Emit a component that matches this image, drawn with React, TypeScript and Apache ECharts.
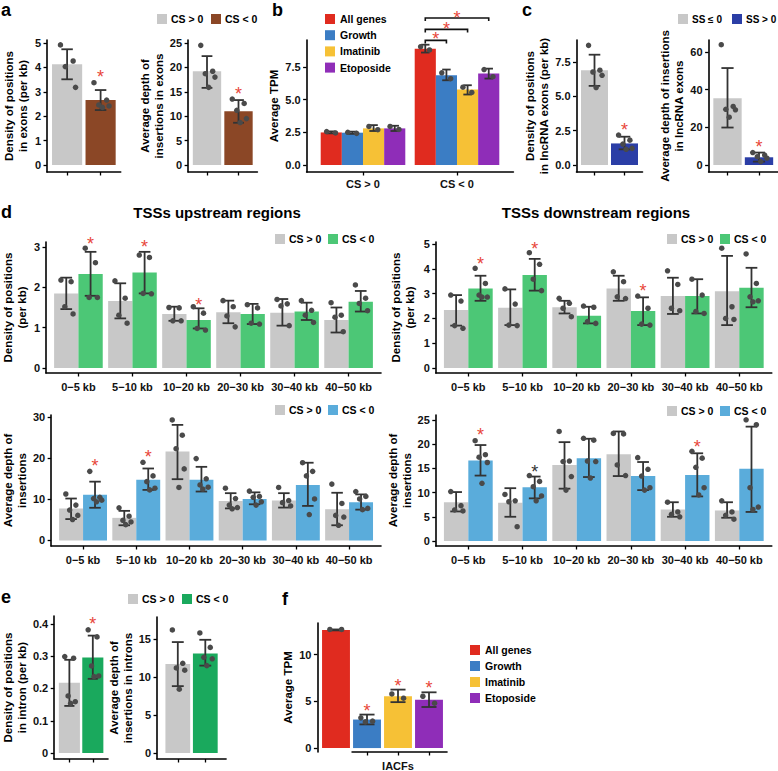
import React, { useEffect, useRef } from "react";
import * as echarts from "echarts";

const FONT = '"Liberation Sans", Arial, Helvetica, sans-serif';
const GRAY = "#c8c8c8";
const BROWN = "#8b4726";
const RED = "#e02b1f";
const BLUE = "#3b7dc4";
const YELLOW = "#f6c136";
const PURPLE = "#8f2db8";
const NAVY = "#2b3ea6";
const GREEN_D = "#4cc776";
const BLUE_D = "#5aacdb";
const GREEN_E = "#1aa95d";
const STAR_RED = "#e8463a";
const STAR_BLACK = "#333333";
const DOT = "#4a4a4a";
const ERR = "#333333";

// ---------------- data ----------------
const GROUPS_CS = ["CS > 0", "CS < 0"];
const GROUPS_SS = ["SS ≤ 0", "SS > 0"];
const TPM_SETS = ["All genes", "Growth", "Imatinib", "Etoposide"];
const D_CATS = ["0−5 kb", "5−10 kb", "10−20 kb", "20−30 kb", "30−40 kb", "40−50 kb"];

// a: exons
const A1_MEAN = [4.13, 2.66];
const A1_LO = [3.51, 2.25];
const A1_HI = [4.74, 3.07];
const A1_DOTS = [[4.92, 4.26, 4.03, 3.18], [3.37, 2.66, 2.46, 2.42, 2.36]];
const A1_STARS = [null, 3.76];
const A2_MEAN = [19.2, 11.0];
const A2_LO = [15.8, 8.65];
const A2_HI = [22.3, 13.3];
const A2_DOTS = [[24.5, 19.2, 18.7, 18.0, 15.9], [13.5, 12.6, 11.2, 9.5, 8.7]];
const A2_STARS = [null, 15.3];

// b: average TPM (rows: All genes, Growth, Imatinib, Etoposide; cols: CS>0, CS<0)
const B_MEAN = [[2.49, 8.9], [2.47, 6.87], [2.8, 5.77], [2.8, 6.99]];
const B_LO = [[2.42, 8.6], [2.38, 6.48], [2.6, 5.39], [2.6, 6.61]];
const B_HI = [[2.57, 9.2], [2.55, 7.3], [3.05, 6.1], [3.0, 7.37]];
const B_DOTS = [
  [[2.55, 2.45], [9.05, 8.8]],
  [[2.5, 2.42], [7.05, 6.6]],
  [[2.95, 2.7], [5.95, 5.55]],
  [[2.95, 2.72], [7.3, 6.75]],
];
const B_BRACKET_Y = [9.53, 10.37, 11.24];
const B_BRACKET_STAR = [9.92, 10.68, 11.52];

// c: lncRNA exons
const C1_MEAN = [6.9, 1.57];
const C1_LO = [5.76, 1.14];
const C1_HI = [8.03, 2.06];
const C1_DOTS = [[8.71, 6.9, 6.77, 6.53, 5.64], [2.18, 1.81, 1.52, 1.21, 1.14]];
const C1_STARS = [null, 2.83];
const C2_MEAN = [35.5, 4.1];
const C2_LO = [19.9, 1.8];
const C2_HI = [51.5, 6.6];
const C2_DOTS = [[63.9, 31.1, 29.6, 29.3, 25.4], [6.6, 5.3, 4.4, 3.6, 1.8]];
const C2_STARS = [null, 11.9];

// d1: upstream density (rows: CS>0, CS<0)
const D1_MEAN = [[1.85, 1.66, 1.34, 1.38, 1.37, 1.19], [2.33, 2.37, 1.19, 1.34, 1.4, 1.64]];
const D1_LO = [[1.46, 1.23, 1.17, 1.11, 1.05, 0.88], [1.79, 1.85, 0.98, 1.09, 1.19, 1.4]];
const D1_HI = [[2.24, 2.1, 1.52, 1.67, 1.71, 1.5], [2.88, 2.88, 1.48, 1.59, 1.62, 1.91]];
const D1_DOTS = [
  [[2.18, 2.14, 1.52, 1.34], [2.16, 1.73, 1.31, 1.11], [1.5, 1.49, 1.17, 1.17], [1.67, 1.52, 1.29, 1.02], [1.7, 1.59, 1.54, 1.05], [1.62, 1.31, 1.26, 0.9]],
  [[2.97, 2.61, 1.75, 1.75], [2.8, 2.74, 1.85, 1.84], [1.52, 1.36, 0.98, 0.94], [1.57, 1.49, 1.11, 1.09], [1.67, 1.43, 1.31, 1.13], [2.06, 1.73, 1.6, 1.42]],
];
const D1_STARS = [[null, null, null, null, null, null], [3.17, 3.09, 1.67, null, null, null]];

// d2: downstream density
const D2_MEAN = [[2.34, 2.43, 2.45, 3.21, 2.9, 3.1], [3.21, 3.75, 2.11, 2.3, 2.9, 3.24]];
const D2_LO = [[1.71, 1.73, 2.2, 2.71, 2.18, 1.73], [2.71, 3.12, 1.8, 1.73, 2.2, 2.45]];
const D2_HI = [[2.94, 3.17, 2.71, 3.72, 3.64, 4.52], [3.72, 4.4, 2.47, 2.85, 3.58, 4.04]];
const D2_DOTS = [
  [[2.94, 2.7, 1.71, 1.6], [3.19, 2.58, 1.73, 1.71], [2.81, 2.61, 2.41, 2.07], [3.88, 3.48, 2.87, 2.8], [3.92, 3.37, 2.41, 2.31], [4.83, 2.47, 2.0, 1.96]],
  [[4.02, 3.41, 2.94, 2.86, 2.86], [4.65, 4.18, 3.58, 3.12], [2.5, 2.45, 1.87, 1.8], [2.9, 2.41, 1.77, 1.73], [3.58, 2.94, 2.28, 2.2], [4.6, 3.41, 2.87, 2.71, 2.67]],
];
const D2_STARS = [[null, null, null, null, null, null], [4.35, 4.96, null, 3.25, null, null]];

// d3: upstream depth
const D3_MEAN = [[7.8, 5.5, 21.6, 9.6, 9.7, 7.6], [11.1, 14.75, 14.75, 10.1, 13.5, 9.3]];
const D3_LO = [[5.2, 3.7, 14.9, 7.8, 8.0, 3.7], [7.95, 12.3, 11.9, 8.8, 8.4, 7.5]];
const D3_HI = [[10.2, 7.2, 28.1, 11.5, 11.5, 11.6], [14.3, 17.5, 17.9, 11.7, 18.9, 11.2]];
const D3_DOTS = [
  [[11.3, 8.6, 7.4, 6.1, 5.1], [7.95, 5.9, 4.9, 4.5, 3.85], [29.3, 25.6, 22.3, 17.4, 12.9], [12.7, 10.2, 8.6, 8.0, 7.7], [12.9, 9.7, 9.2, 8.4], [13.7, 9.0, 6.1, 5.7, 3.7]],
  [[16.8, 10.5, 10.2, 9.8, 9.4], [19.0, 15.7, 14.3, 12.7, 12.3], [19.9, 15.0, 13.5, 12.95, 12.5], [12.0, 10.7, 10.5, 9.4, 8.6], [18.9, 16.8, 15.7, 10.1, 6.3], [11.9, 10.7, 10.1, 7.8, 7.5]],
];
const D3_STARS = [[null, null, null, null, null, null], [19.0, 21.3, null, null, null, null]];

// d4: downstream depth
const D4_MEAN = [[8.0, 7.9, 15.7, 17.9, 6.5, 6.3], [16.6, 11.1, 17.1, 13.4, 13.6, 14.9]];
const D4_LO = [[6.1, 5.0, 10.8, 13.4, 5.0, 4.8], [13.5, 8.8, 13.2, 10.5, 9.2, 6.0]];
const D4_HI = [[10.1, 10.9, 20.4, 22.6, 8.0, 8.0], [19.8, 13.3, 21.1, 16.3, 18.1, 23.6]];
const D4_DOTS = [
  [[10.2, 7.3, 6.4, 6.2], [9.6, 8.3, 8.1, 2.95], [22.6, 16.5, 16.4, 13.3, 10.5], [22.2, 22.1, 15.7, 13.5], [8.0, 6.0, 5.5, 5.0], [8.3, 6.0, 5.3, 4.5]],
  [[20.7, 17.8, 17.3, 16.2, 11.9], [13.5, 12.3, 11.2, 9.3, 8.3], [21.2, 20.8, 16.5, 16.4, 13.0], [17.2, 14.8, 13.4, 11.0, 10.5], [18.5, 17.1, 15.2, 11.0, 9.5], [25.0, 24.0, 11.0, 7.0, 6.5]],
];
const D4_STARS = [[null, null, null, null, null, null], [22.6, 15.0, null, null, 20.2, null]];
const D4_BLACK_STAR = [1]; // category index whose star is black

// e: introns
const E1_MEAN = [0.218, 0.296];
const E1_LO = [0.146, 0.23];
const E1_HI = [0.289, 0.364];
const E1_DOTS = [[0.299, 0.294, 0.177, 0.159, 0.154], [0.382, 0.36, 0.27, 0.239, 0.237]];
const E1_STARS = [null, 0.411];
const E2_MEAN = [11.7, 13.1];
const E2_LO = [8.8, 11.5];
const E2_HI = [14.6, 14.9];
const E2_DOTS = [[16.2, 11.8, 11.2, 10.9, 8.4], [15.8, 13.9, 12.6, 12.4, 11.5]];
const E2_STARS = [null, null];

// f: IACFs
const F_MEAN = [12.63, 3.05, 5.54, 5.16];
const F_LO = [12.58, 2.53, 4.91, 4.39];
const F_HI = [12.68, 3.58, 6.25, 5.96];
const F_DOTS = [[12.68, 12.68], [3.23, 2.88, 2.8], [5.79, 5.33], [5.54, 4.8]];
const F_STARS = [null, 4.39, 7.02, 6.84];

const JITTER = [-0.22, 0.2, -0.06, 0.28, 0.06, -0.3];

type Panel = {
  grid: [number, number, number, number];
  xr: [number, number];
  yr: [number, number];
  yTicks: number[];
  yFmt?: (v: number) => string;
  yName: string;
  nameGap: number;
  xTicks: number[];
  xLabelVals?: number[];
  xLabel?: (v: number) => string;
  xLabelMargin?: number;
  xLine?: boolean;
  mean: number[][];
  lo: number[][];
  hi: number[][];
  dots: number[][][];
  stars: (number | null)[][];
  color: (s: number, c: number) => string;
  starColor?: (s: number, c: number) => string;
  capFrac: number;
};

const fmt1 = (v: number) => v.toFixed(1);
const two = (c: number) => (c === 0 ? GRAY : null);

const PANELS: Panel[] = [
  // a1
  {
    grid: [47, 40, 73.7, 132], xr: [0.4, 2.6], yr: [-0.287, 5.12], yTicks: [0, 1, 2, 3, 4, 5],
    yName: "Density of positions\nin exons (per kb)", nameGap: 17, xTicks: [1, 2],
    mean: [A1_MEAN], lo: [A1_LO], hi: [A1_HI], dots: [A1_DOTS], stars: [A1_STARS],
    color: (s, c) => two(c) || BROWN, capFrac: 0.38,
  },
  // a2
  {
    grid: [188.1, 40, 69.3, 132], xr: [0.4, 2.6], yr: [-1.43, 25.6], yTicks: [0, 5, 10, 15, 20, 25],
    yName: "Average depth of\ninsertions in exons", nameGap: 22, xTicks: [1, 2],
    mean: [A2_MEAN], lo: [A2_LO], hi: [A2_HI], dots: [A2_DOTS], stars: [A2_STARS],
    color: (s, c) => two(c) || BROWN, capFrac: 0.38,
  },
  // b
  {
    grid: [306.6, 40, 206.8, 132], xr: [0.4, 2.6], yr: [-0.536, 9.56], yTicks: [0, 2.5, 5, 7.5], yFmt: fmt1,
    yName: "Average TPM", nameGap: 25, xTicks: [1, 2], xLabel: (v) => GROUPS_CS[Math.round(v) - 1], xLabelMargin: 6,
    mean: B_MEAN, lo: B_LO, hi: B_HI, dots: B_DOTS,
    stars: [[null, null], [null, null], [null, null], [null, null]],
    color: (s) => [RED, BLUE, YELLOW, PURPLE][s], capFrac: 0.4,
  },
  // c1
  {
    grid: [576.5, 40, 66, 132], xr: [0.4, 2.6], yr: [-0.51, 9.1], yTicks: [0, 2.5, 5, 7.5], yFmt: fmt1,
    yName: "Density of positions\nin lncRNA exons (per kb)", nameGap: 24, xTicks: [1, 2],
    mean: [C1_MEAN], lo: [C1_LO], hi: [C1_HI], dots: [C1_DOTS], stars: [C1_STARS],
    color: (s, c) => two(c) || NAVY, capFrac: 0.43,
  },
  // c2
  {
    grid: [708.6, 40, 69.3, 132], xr: [0.4, 2.6], yr: [-3.72, 66.4], yTicks: [0, 20, 40, 60],
    yName: "Average depth of insertions\nin lncRNA exons", nameGap: 22, xTicks: [1, 2],
    mean: [C2_MEAN], lo: [C2_LO], hi: [C2_HI], dots: [C2_DOTS], stars: [C2_STARS],
    color: (s, c) => two(c) || NAVY, capFrac: 0.43,
  },
  // d1
  {
    grid: [45, 242, 336, 131], xr: [0.4, 6.6], yr: [-0.124, 3.124], yTicks: [0, 1, 2, 3],
    yName: "Density of positions\n(per kb)", nameGap: 17, xTicks: [1, 2, 3, 4, 5, 6],
    xLabel: (v) => D_CATS[Math.round(v) - 1], xLabelMargin: 8,
    mean: D1_MEAN, lo: D1_LO, hi: D1_HI, dots: D1_DOTS, stars: D1_STARS,
    color: (s) => (s === 0 ? GRAY : GREEN_D), capFrac: 0.48,
  },
  // d2
  {
    grid: [435.8, 242, 336, 131], xr: [0.4, 6.6], yr: [-0.2, 5.08], yTicks: [0, 1, 2, 3, 4, 5],
    yName: "Density of positions\n(per kb)", nameGap: 19, xTicks: [1, 2, 3, 4, 5, 6],
    xLabel: (v) => D_CATS[Math.round(v) - 1], xLabelMargin: 8,
    mean: D2_MEAN, lo: D2_LO, hi: D2_HI, dots: D2_DOTS, stars: D2_STARS,
    color: (s) => (s === 0 ? GRAY : GREEN_D), capFrac: 0.48,
  },
  // d3
  {
    grid: [45, 415, 336, 131], xr: [0.4, 6.6], yr: [-1.34, 30.5], yTicks: [0, 10, 20, 30],
    yName: "Average depth of\ninsertions", nameGap: 16, xTicks: [1, 2, 3, 4, 5, 6],
    xLabel: (v) => D_CATS[Math.round(v) - 1], xLabelMargin: 8,
    mean: D3_MEAN, lo: D3_LO, hi: D3_HI, dots: D3_DOTS, stars: D3_STARS,
    color: (s) => (s === 0 ? GRAY : BLUE_D), capFrac: 0.48,
  },
  // d4
  {
    grid: [435.8, 415, 336, 131], xr: [0.4, 6.6], yr: [-1.03, 26.0], yTicks: [0, 5, 10, 15, 20, 25],
    yName: "Average depth of\ninsertions", nameGap: 19, xTicks: [1, 2, 3, 4, 5, 6],
    xLabel: (v) => D_CATS[Math.round(v) - 1], xLabelMargin: 8,
    mean: D4_MEAN, lo: D4_LO, hi: D4_HI, dots: D4_DOTS, stars: D4_STARS,
    color: (s) => (s === 0 ? GRAY : BLUE_D), capFrac: 0.48,
    starColor: (s, c) => (D4_BLACK_STAR.indexOf(c) >= 0 ? STAR_BLACK : STAR_RED),
  },
  // e1
  {
    grid: [46, 616, 62, 143], xr: [0.352, 2.648], yr: [-0.0186, 0.4248], yTicks: [0, 0.1, 0.2, 0.3, 0.4],
    yName: "Density of positions\nin intron (per kb)", nameGap: 18, xTicks: [1, 2],
    mean: [E1_MEAN], lo: [E1_LO], hi: [E1_HI], dots: [E1_DOTS], stars: [E1_STARS],
    color: (s, c) => two(c) || GREEN_E, capFrac: 0.48,
  },
  // e2
  {
    grid: [157, 617, 69.1, 142], xr: [0.244, 2.756], yr: [-0.79, 17.9], yTicks: [0, 5, 10, 15],
    yName: "Average depth of\ninsertions in introns", nameGap: 12, xTicks: [1, 2],
    mean: [E2_MEAN], lo: [E2_LO], hi: [E2_HI], dots: [E2_DOTS], stars: [E2_STARS],
    color: (s, c) => two(c) || GREEN_E, capFrac: 0.48,
  },
  // f
  {
    grid: [317.4, 623, 130.2, 131], xr: [0.4, 4.6], yr: [-0.42, 13.37], yTicks: [0, 5, 10],
    yName: "Average TPM", nameGap: 22, xTicks: [2, 3, 4], xLabelVals: [3], xLabel: () => "IACFs", xLabelMargin: 8,
    xLine: false,
    mean: [F_MEAN], lo: [F_LO], hi: [F_HI], dots: [F_DOTS], stars: [F_STARS],
    color: (s, c) => [RED, BLUE, YELLOW, PURPLE][c], capFrac: 0.54,
  },
];

const B_INDEX = 2;
const F_INDEX = 11;

function buildOption() {
  const grid: any[] = [];
  const xAxis: any[] = [];
  const yAxis: any[] = [];
  const series: any[] = [];
  const axisTextStyle = { color: "#111", fontWeight: "bold", fontSize: 11, fontFamily: FONT };

  PANELS.forEach((p, gi) => {
    grid.push({ left: p.grid[0], top: p.grid[1], width: p.grid[2], height: p.grid[3] });
    xAxis.push({
      type: "value", gridIndex: gi, min: p.xr[0], max: p.xr[1],
      axisLine: { show: p.xLine !== false, onZero: false, lineStyle: { color: "#000", width: 1.6 } },
      axisTick: { show: true, length: 3.5, customValues: p.xTicks, lineStyle: { color: "#000", width: 1.3 } },
      axisLabel: {
        show: !!p.xLabel, customValues: p.xLabelVals || p.xTicks,
        formatter: p.xLabel || (() => ""), margin: p.xLabelMargin ?? 7, ...axisTextStyle,
      },
      splitLine: { show: false },
    });
    yAxis.push({
      type: "value", gridIndex: gi, min: p.yr[0], max: p.yr[1],
      axisLine: { show: true, onZero: false, lineStyle: { color: "#000", width: 1.6 } },
      axisTick: { show: true, length: 3.5, customValues: p.yTicks, lineStyle: { color: "#000", width: 1.3 } },
      axisLabel: {
        customValues: p.yTicks, formatter: p.yFmt || ((v: number) => String(v)), margin: 6, ...axisTextStyle,
      },
      splitLine: { show: false },
      name: p.yName, nameLocation: "middle", nameGap: p.nameGap, nameRotate: 90,
      nameTextStyle: { fontWeight: "bold", fontSize: 11.5, lineHeight: 14, color: "#000", fontFamily: FONT },
    });

    const S = p.mean.length;
    const C = p.mean[0].length;
    const w = 0.9 / S;
    const bars: any[] = [];
    const colors: string[] = [];
    const dots: number[][] = [];
    const stars: any[] = [];
    for (let s = 0; s < S; s++) {
      for (let c = 0; c < C; c++) {
        const x = c + 1 + (s - (S - 1) / 2) * w;
        bars.push([x, p.mean[s][c], p.lo[s][c], p.hi[s][c], w]);
        colors.push(p.color(s, c));
        (p.dots[s][c] || []).forEach((v, k) => dots.push([x + JITTER[k % JITTER.length] * w, v]));
        const st = p.stars[s] ? p.stars[s][c] : null;
        if (st !== null && st !== undefined) {
          stars.push({ value: [x, st], col: p.starColor ? p.starColor(s, c) : STAR_RED });
        }
      }
    }
    const capFrac = p.capFrac;
    series.push({
      type: "custom", xAxisIndex: gi, yAxisIndex: gi, z: 2, clip: false, silent: true,
      data: bars,
      renderItem: (params: any, api: any) => {
        const x = api.value(0), m = api.value(1), lo = api.value(2), hi = api.value(3), bw = api.value(4);
        const bl = api.coord([x - bw / 2, 0]);
        const tr = api.coord([x + bw / 2, m]);
        const top = api.coord([x, hi]);
        const bot = api.coord([x, lo]);
        const cw = ((tr[0] - bl[0]) * capFrac) / 2;
        const ls = { stroke: ERR, lineWidth: 1.8 };
        return {
          type: "group",
          children: [
            { type: "rect", shape: { x: bl[0], y: tr[1], width: tr[0] - bl[0], height: bl[1] - tr[1] }, style: { fill: colors[params.dataIndex] } },
            { type: "line", shape: { x1: top[0], y1: top[1], x2: bot[0], y2: bot[1] }, style: ls },
            { type: "line", shape: { x1: top[0] - cw, y1: top[1], x2: top[0] + cw, y2: top[1] }, style: ls },
            { type: "line", shape: { x1: bot[0] - cw, y1: bot[1], x2: bot[0] + cw, y2: bot[1] }, style: ls },
          ],
        };
      },
    });
    series.push({
      type: "scatter", xAxisIndex: gi, yAxisIndex: gi, z: 3, silent: true,
      data: dots, symbolSize: 5.5, itemStyle: { color: DOT, opacity: 1 },
    });
    if (stars.length) {
      const cols = stars.map((s) => s.col);
      series.push({
        type: "custom", xAxisIndex: gi, yAxisIndex: gi, z: 4, clip: false, silent: true,
        data: stars.map((s) => s.value),
        renderItem: (params: any, api: any) => {
          const pt = api.coord([api.value(0), api.value(1)]);
          return {
            type: "text", x: pt[0], y: pt[1] + 4,
            style: { text: "*", fill: cols[params.dataIndex], fontSize: 18, fontFamily: FONT, align: "center", verticalAlign: "middle" },
          };
        },
      });
    }
  });

  // b brackets
  const bS = B_MEAN.length;
  const bw = 0.9 / bS;
  const bx = (s: number) => 2 + (s - (bS - 1) / 2) * bw;
  const brackets = B_BRACKET_Y.map((y, i) => [bx(0), bx(i + 1), y, B_BRACKET_STAR[i]]);
  series.push({
    type: "custom", xAxisIndex: B_INDEX, yAxisIndex: B_INDEX, z: 4, clip: false, silent: true,
    data: brackets,
    renderItem: (params: any, api: any) => {
      const x1 = api.value(0), x2 = api.value(1), y = api.value(2), ys = api.value(3);
      const a = api.coord([x1, y]);
      const b = api.coord([x2, y]);
      const st = api.coord([(x1 + x2) / 2, ys]);
      return {
        type: "group",
        children: [
          { type: "polyline", shape: { points: [[a[0], a[1] + 3], a, b, [b[0], b[1] + 3]] }, style: { stroke: "#111", lineWidth: 1.6, fill: "none" } },
          { type: "text", x: st[0], y: st[1] + 4, style: { text: "*", fill: STAR_RED, fontSize: 18, fontFamily: FONT, align: "center", verticalAlign: "middle" } },
        ],
      };
    },
  });

  // f partial x axis line (spans the IACF bars)
  const fp = PANELS[F_INDEX];
  series.push({
    type: "custom", xAxisIndex: F_INDEX, yAxisIndex: F_INDEX, z: 5, clip: false, silent: true,
    data: [[1.5, fp.xr[1]]],
    renderItem: (params: any, api: any) => {
      const a = api.coord([api.value(0), fp.yr[0]]);
      const b = api.coord([api.value(1), fp.yr[0]]);
      return { type: "line", shape: { x1: a[0], y1: a[1], x2: b[0], y2: b[1] }, style: { stroke: "#000", lineWidth: 1.6 } };
    },
  });

  const txt = (text: string, x: number, y: number, size: number, align = "left", va = "middle", weight = "bold") => ({
    type: "text", x, y, silent: true,
    style: { text, fontSize: size, fontWeight: weight, fontFamily: FONT, fill: "#000", align, verticalAlign: va },
  });
  const sq = (x: number, y: number, color: string) => ({
    type: "rect", silent: true, shape: { x, y, width: 10, height: 10 }, style: { fill: color },
  });
  const legend2 = (x: number, y: number, c1: string, c2: string, labels: string[], gap: number, fs = 10.5) => [
    sq(x, y, c1), txt(labels[0], x + 14, y + 5, fs),
    sq(x + gap, y, c2), txt(labels[1], x + gap + 14, y + 5, fs),
  ];

  const graphic: any[] = [
    txt("a", 1, 1, 18, "left", "top"),
    txt("b", 272, 1, 18, "left", "top"),
    txt("c", 522, 1, 18, "left", "top"),
    txt("d", 1, 203, 18, "left", "top"),
    txt("e", 1, 588, 18, "left", "top"),
    txt("f", 282, 590, 18, "left", "top"),
    txt("TSSs upstream regions", 217, 212.5, 15, "center"),
    txt("TSSs downstream regions", 596, 212.5, 15, "center"),
    ...legend2(157, 14, GRAY, BROWN, GROUPS_CS, 54),
    ...legend2(678, 14, GRAY, NAVY, GROUPS_SS, 54, 10),
    ...legend2(275, 234, GRAY, GREEN_D, GROUPS_CS, 53),
    ...legend2(667, 234, GRAY, GREEN_D, GROUPS_CS, 53),
    ...legend2(275, 405, GRAY, BLUE_D, GROUPS_CS, 53),
    ...legend2(667, 406, GRAY, BLUE_D, GROUPS_CS, 53),
    ...legend2(128, 594, GRAY, GREEN_E, GROUPS_CS, 54),
  ];
  const tpmColors = [RED, BLUE, YELLOW, PURPLE];
  TPM_SETS.forEach((name, i) => {
    graphic.push(sq(325, 14 + i * 16.2, tpmColors[i]));
    graphic.push(txt(name, 340, 19 + i * 16.2, 10.5));
    graphic.push(sq(470, 645 + i * 16, tpmColors[i]));
    graphic.push(txt(name, 485, 650 + i * 16, 10.5));
  });

  return {
    animation: false,
    backgroundColor: "#fff",
    textStyle: { fontFamily: FONT },
    grid, xAxis, yAxis, series, graphic,
  };
}

export default function App() {
  const ref = useRef<HTMLDivElement>(null);
  useEffect(() => {
    const chart = echarts.init(ref.current!, null, { renderer: "svg" });
    chart.setOption(buildOption() as any);
    return () => chart.dispose();
  }, []);
  return (
    <div
      ref={ref}
      style={{ position: "absolute", left: 0, top: 0, width: 778, height: 771, background: "#fff" }}
    />
  );
}
